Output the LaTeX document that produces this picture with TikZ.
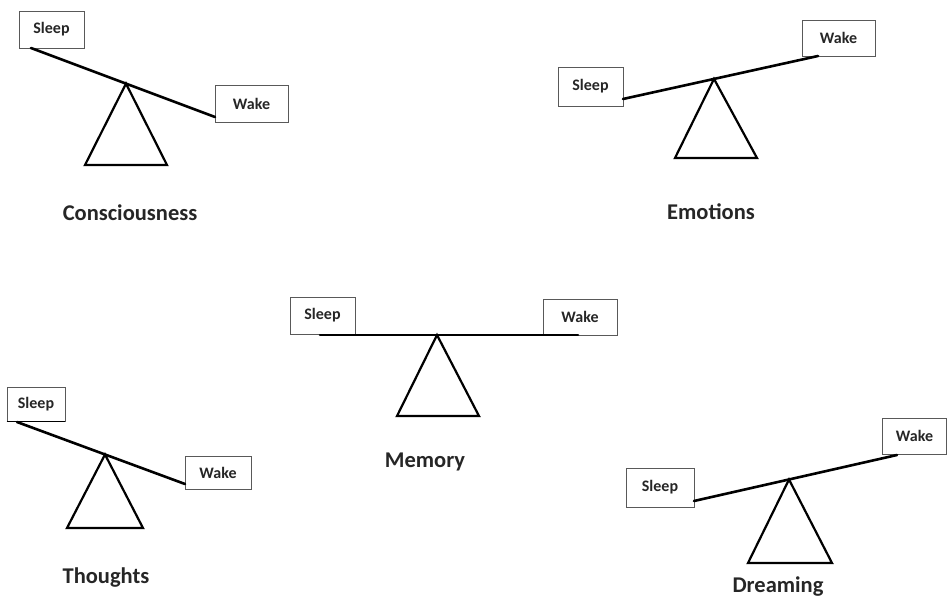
\documentclass[tikz,border=0pt]{standalone}
\usepackage{fontspec}
\setmainfont{Carlito}
\tikzset{
  lbl/.style={draw=black!65, line width=0.8pt, fill=white, font=\bfseries\fontsize{16}{16}\selectfont, inner sep=0pt, text=black!85},
  ttl/.style={font=\bfseries\fontsize{22.5}{22.5}\selectfont, text=black!85},
  beam/.style={line width=2.6pt, line cap=round},
  tri/.style={line width=2.2pt, line join=miter},
}
\begin{document}
\begin{tikzpicture}[x=1pt,y=-1pt]
\useasboundingbox (0,0) rectangle (948,597);
% Panel 1: Consciousness
\node[lbl, minimum width=65pt, minimum height=37pt] (s1) at (51.5,29.5) {Sleep};
\node[lbl, minimum width=73pt, minimum height=37pt] (w1) at (251.5,103.5) {Wake};
\coordinate (b1l) at (31,48);
\coordinate (b1r) at (215,117);
\coordinate (p1) at (126,83.6);
\coordinate (t1l) at (85,165);
\coordinate (t1r) at (167,165);
\draw[beam] (b1l) -- (b1r);
\draw[tri] (p1) -- (t1l) -- (t1r) -- cycle;
\node[ttl] (c1) at (130,213) {Consciousness};
% Panel 2: Emotions
\node[lbl, minimum width=65pt, minimum height=39pt] (s2) at (590.5,86.5) {Sleep};
\node[lbl, minimum width=73pt, minimum height=36pt] (w2) at (838.5,38) {Wake};
\coordinate (b2l) at (623,99);
\coordinate (b2r) at (818,56);
\coordinate (p2) at (714,78.9);
\coordinate (t2l) at (675,158);
\coordinate (t2r) at (757,158);
\draw[beam] (b2l) -- (b2r);
\draw[tri] (p2) -- (t2l) -- (t2r) -- cycle;
\node[ttl] (c2) at (711,212) {Emotions};
% Panel 3: Memory
\node[lbl, minimum width=65pt, minimum height=37pt] (s3) at (322.5,315.5) {Sleep};
\node[lbl, minimum width=74pt, minimum height=36pt] (w3) at (580,317) {Wake};
\coordinate (b3l) at (320,335);
\coordinate (b3r) at (578,335);
\coordinate (p3) at (437,335);
\coordinate (t3l) at (397,416);
\coordinate (t3r) at (479,416);
\draw[beam] (b3l) -- (b3r);
\draw[tri] (p3) -- (t3l) -- (t3r) -- cycle;
\node[ttl] (c3) at (425,462) {Memory};
% Panel 4: Thoughts
\node[lbl, minimum width=58pt, minimum height=34pt] (s4) at (36,404) {Sleep};
\node[lbl, minimum width=66pt, minimum height=33pt] (w4) at (218,472.5) {Wake};
\coordinate (b4l) at (17,422);
\coordinate (b4r) at (185,484);
\coordinate (p4) at (105,454.5);
\coordinate (t4l) at (67,528);
\coordinate (t4r) at (143,528);
\draw[line width=1.6pt] (s4.south west) -- (s4.south east);
\draw[beam] (b4l) -- (b4r);
\draw[tri] (p4) -- (t4l) -- (t4r) -- cycle;
\node[ttl] (c4) at (106,578) {Thoughts};
% Panel 5: Dreaming
\node[lbl, minimum width=68pt, minimum height=39pt] (s5) at (660,487.5) {Sleep};
\node[lbl, minimum width=64pt, minimum height=36pt] (w5) at (914.5,436) {Wake};
\coordinate (b5l) at (694,501);
\coordinate (b5r) at (897,455);
\coordinate (p5) at (789,479.5);
\coordinate (t5l) at (748,563);
\coordinate (t5r) at (832,563);
\draw[beam] (b5l) -- (b5r);
\draw[tri] (p5) -- (t5l) -- (t5r) -- cycle;
\node[ttl] (c5) at (778,587) {Dreaming};
\end{tikzpicture}
\end{document}
